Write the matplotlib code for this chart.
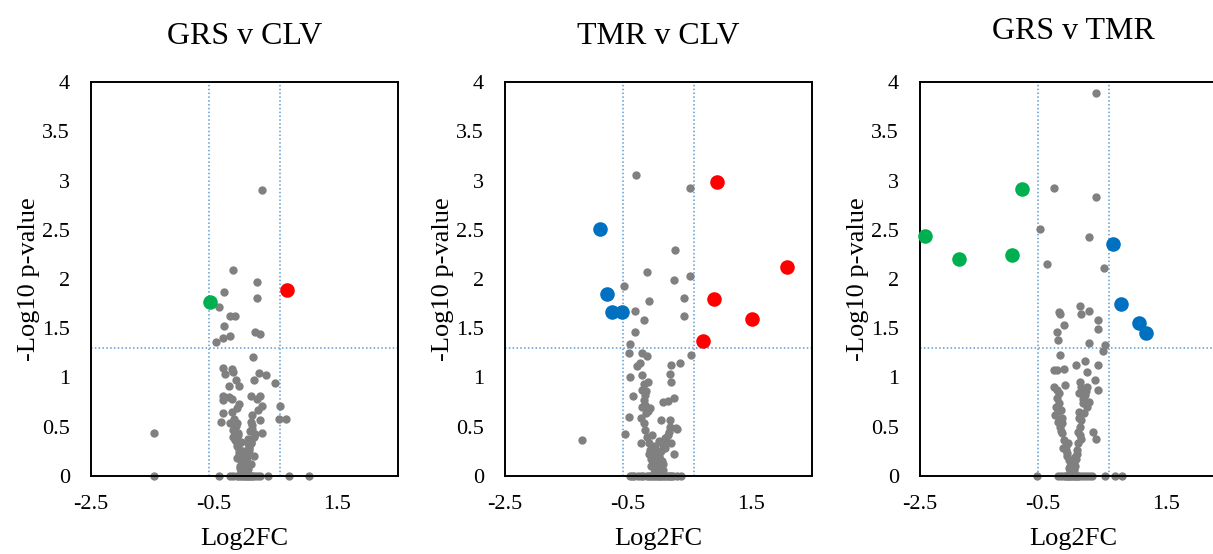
import numpy as np
import matplotlib
matplotlib.use("Agg")
import matplotlib.pyplot as plt

# ___ volcano data : log2 fold change vs -log10 p-value
titles = ["GRS v CLV", "TMR v CLV", "GRS v TMR"]

# GRS v CLV
gc_gray_x = [0.29, -0.185, 0.20, -0.33, 0.20, -0.41, -0.23, -0.15, -0.33, 0.17,
             0.26, -0.23, -0.35, -0.47,
             0.14, -0.355, -0.20, -0.32, -0.18, 0.23, 0.35, -0.14, -0.26, -0.09,
             0.16, 0.495, -0.355, -0.245, -0.20, 0.11, 0.26, 0.20, -0.355, -0.09,
             -0.13, 0.29, 0.22, 0.577, 0.57, 0.675, -0.355, -0.38, -0.20, -0.23,
             -0.18, -0.12, 0.125, 0.10, 0.26, 0.29, -1.47,
             -0.185, -0.147, -0.12, -0.12, -0.093, -0.093, -0.065, -0.065, -0.038,
             -0.038, -0.011, -0.011,
             0.152, 0.109, 0.109, 0.07, 0.07, 0.043, 0.043, 0.032, 0.016, 0.016,
             0.0, 0.02,
             -0.16, -0.10, 0.12, 0.17, 0.05, -0.05, 0.08, -0.03, 0.15, -0.13, 0.10,
             -0.08,
             -0.17, -0.14, -0.11, 0.13, 0.09, 0.06, -0.05, 0.05, -0.08, 0.08,
             -0.03, 0.03, -0.06, 0.06, -0.02, 0.02, -0.10, 0.10, 0.04, -0.04,
             -1.47, -0.42, -0.24, -0.12, -0.06, 0.0, 0.05, 0.10, 0.16, 0.38, 0.72,
             1.05, -0.18, -0.09, -0.03, 0.03, 0.07, 0.13, 0.21, 0.26]
gc_gray_y = [2.90, 2.09, 1.97, 1.87, 1.81, 1.72, 1.62, 1.62, 1.52, 1.465,
             1.44, 1.42, 1.40, 1.36,
             1.21, 1.10, 1.09, 1.04, 1.06, 1.05, 1.03, 0.975, 0.914, 0.914,
             0.975, 0.947, 0.81, 0.805, 0.78, 0.81, 0.81, 0.78, 0.77, 0.73,
             0.69, 0.71, 0.67, 0.71, 0.58, 0.58, 0.64, 0.55, 0.65, 0.535,
             0.47, 0.535, 0.62, 0.55, 0.57, 0.44, 0.44,
             0.40, 0.365, 0.33, 0.30, 0.264, 0.23, 0.196, 0.16, 0.13,
             0.095, 0.06, 0.027,
             0.40, 0.365, 0.33, 0.30, 0.264, 0.23, 0.196, 0.16, 0.13, 0.095,
             0.06, 0.03,
             0.45, 0.42, 0.48, 0.43, 0.38, 0.35, 0.28, 0.25, 0.20, 0.18, 0.12,
             0.08,
             0.58, 0.51, 0.44, 0.52, 0.46, 0.34, 0.22, 0.26, 0.10, 0.12,
             0.16, 0.20, 0.05, 0.07, 0.04, 0.14, 0.30, 0.34, 0.02, 0.01,
             0, 0, 0, 0, 0, 0, 0, 0, 0, 0, 0,
             0, 0, 0, 0, 0, 0, 0, 0, 0]
gc_up_x, gc_up_y = [0.70], [1.89]
gc_down_x, gc_down_y = [-0.56], [1.77]

# TMR v CLV
tc_gray_x = [-0.363, 0.507, 0.273, -0.184, 0.507, 0.247, -0.57, 0.42, -0.16,
             -0.375, 0.42, -0.24, -0.39, -0.46, 0.534, -0.482, -1.25,
             -0.27, -0.188, -0.352, -0.298, 0.208, 0.344, -0.46, -0.27, -0.178,
             0.192, 0.208, -0.423, -0.27, -0.215, -0.243, -0.215, 0.072, 0.148,
             0.246, -0.27, -0.133, -0.482, -0.29, -0.243, 0.038, 0.18, 0.29,
             -0.543, -0.28, 0.30,
             -0.216, -0.19, -0.16, -0.133, -0.106, -0.08, -0.06,
             0.164, 0.11, 0.072, 0.04, 0.013, -0.01,
             -0.10, 0.0, -0.05, 0.10, -0.02, 0.06, -0.12, 0.02, 0.20, 0.25,
             -0.24, -0.21, -0.17, -0.20, 0.19, 0.15, 0.12, -0.15, -0.12,
             -0.08, 0.08, -0.04, 0.04, -0.07, 0.07, 0.0, -0.03, 0.03,
             -0.47, -0.40, -0.33, -0.26, -0.19, -0.12, -0.06, 0.0, 0.06, 0.12,
             0.18, 0.24, 0.30, 0.36, -0.43, -0.29, -0.15, -0.09, -0.03, 0.03,
             0.09, 0.15, 0.21]
tc_gray_y = [3.056, 2.92, 2.29, 2.07, 2.03, 1.99, 1.93, 1.81, 1.78,
             1.68, 1.62, 1.58, 1.46, 1.34, 1.23, 1.245, 0.365,
             1.245, 1.22, 1.12, 1.15, 1.13, 1.15, 1.01, 1.025, 0.957,
             1.04, 0.957, 0.812, 0.873, 0.823, 0.772, 0.72, 0.748, 0.765,
             0.795, 0.704, 0.687, 0.595, 0.585, 0.535, 0.57, 0.57, 0.485,
             0.423, 0.34, 0.48,
             0.467, 0.40, 0.33, 0.264, 0.196, 0.13, 0.06,
             0.45, 0.384, 0.317, 0.25, 0.18, 0.115,
             0.42, 0.36, 0.30, 0.28, 0.22, 0.15, 0.10, 0.05, 0.33, 0.22,
             0.93, 0.86, 0.66, 0.64, 0.50, 0.42, 0.36, 0.22, 0.17,
             0.03, 0.06, 0.02, 0.10, 0.26, 0.12, 0.20, 0.08, 0.16,
             0, 0, 0, 0, 0, 0, 0, 0, 0, 0,
             0, 0, 0, 0, 0, 0, 0, 0, 0, 0,
             0, 0, 0]
tc_up_x = [0.953, 2.09, 0.899, 1.53, 0.726]
tc_up_y = [2.98, 2.12, 1.80, 1.59, 1.37]
tc_down_x = [-0.96, -0.84, -0.76, -0.60]
tc_down_y = [2.51, 1.845, 1.66, 1.66]

# GRS v TMR
gt_gray_x = [0.366, -0.325, 0.366, -0.542, 0.245, -0.43, 0.494,
             0.11, 0.257, 0.127, -0.244, -0.217, 0.40, 0.40, -0.162, -0.27,
             -0.254, 0.257, 0.518, 0.48, -0.217, 0.19, 0.045, 0.40, -0.325,
             -0.162, -0.27, 0.22, -0.325, -0.135, -0.27, 0.11, 0.127, 0.22,
             0.356, 0.394, 0.083, 0.19, 0.31, 0.365, 0.083,
             -0.27, -0.23, -0.20, -0.19, -0.22, -0.19, -0.15, -0.13, -0.10,
             -0.08, -0.06, -0.05,
             0.22, 0.17, 0.13, 0.11, 0.10, 0.08, 0.05, 0.03, 0.01, 0.0,
             -0.30, -0.25, -0.28, 0.15, 0.25, -0.17, 0.06, -0.03,
             -0.24, -0.21, -0.18, -0.26, 0.20, 0.15, 0.09, 0.07, 0.12,
             -0.11, -0.07, -0.02, 0.02, 0.04, -0.12, -0.09,
             -0.60, -0.20, -0.15, -0.10, -0.05, 0.0, 0.05, 0.10, 0.15, 0.20,
             0.518, 0.68, 0.79, -0.25, -0.12, -0.07, -0.02, 0.03, 0.08, 0.25,
             0.30]
gt_gray_y = [3.885, 2.92, 2.83, 2.505, 2.43, 2.15, 2.11,
             1.726, 1.68, 1.64, 1.665, 1.64, 1.585, 1.496, 1.53, 1.465,
             1.38, 1.35, 1.335, 1.27, 1.23, 1.17, 1.127, 1.127, 1.077,
             1.09, 1.08, 1.053, 0.90, 0.924, 0.873, 0.957, 0.90, 0.907,
             0.975, 0.873, 0.84, 0.823, 0.45, 0.372, 0.65,
             0.79, 0.74, 0.672, 0.585, 0.50, 0.433, 0.366, 0.30, 0.23,
             0.16, 0.10, 0.05,
             0.70, 0.637, 0.569, 0.50, 0.416, 0.33, 0.26, 0.19, 0.12, 0.06,
             0.62, 0.55, 0.70, 0.78, 0.75, 0.28, 0.22, 0.14,
             0.84, 0.46, 0.54, 0.66, 0.86, 0.74, 0.59, 0.45, 0.38,
             0.20, 0.08, 0.03, 0.10, 0.17, 0.26, 0.34,
             0, 0, 0, 0, 0, 0, 0, 0, 0, 0,
             0, 0, 0, 0, 0, 0, 0, 0, 0, 0,
             0]
gt_up_x = [0.637, 0.767, 1.06, 1.185]
gt_up_y = [2.36, 1.746, 1.55, 1.455]
gt_down_x = [-0.836, -2.418, -0.994, -1.86]
gt_down_y = [2.91, 2.44, 2.24, 2.20]

fc_cut = np.log2(1.5)
p_cut = -np.log10(0.05)

panels = [
    (gc_gray_x, gc_gray_y, [(gc_up_x, gc_up_y, "#FF0000"), (gc_down_x, gc_down_y, "#00B050")]),
    (tc_gray_x, tc_gray_y, [(tc_up_x, tc_up_y, "#FF0000"), (tc_down_x, tc_down_y, "#0070C0")]),
    (gt_gray_x, gt_gray_y, [(gt_up_x, gt_up_y, "#0070C0"), (gt_down_x, gt_down_y, "#00B050")]),
]

plt.rcParams["font.family"] = "Liberation Serif"

fig = plt.figure(figsize=(12.13, 5.54), dpi=100)
W, H = 1213.0, 554.0
lefts = [91, 505, 920]
title_pad = [27, 27, 31]

for i, (gx, gy, hl) in enumerate(panels):
    ax = fig.add_axes([lefts[i] / W, 78 / H, 307 / W, 394 / H])
    ax.axvline(-fc_cut, color="#5B9BD5", lw=1.1, ls=(0, (1, 1.5)), zorder=1)
    ax.axvline(fc_cut, color="#5B9BD5", lw=1.1, ls=(0, (1, 1.5)), zorder=1)
    ax.axhline(p_cut, color="#5B9BD5", lw=1.1, ls=(0, (1, 1.5)), zorder=1)
    ax.scatter(gx, gy, s=36, color="#808080", linewidths=0, zorder=2, clip_on=False)
    for hx, hy, c in hl:
        ax.scatter(hx, hy, s=110, color=c, linewidths=0, zorder=3, clip_on=False)
    ax.set_xlim(-2.5, 2.5)
    ax.set_ylim(0, 4)
    ax.set_xticks([-2.5, -0.5, 1.5])
    ax.set_xticklabels(["-2.5", "-0.5", "1.5"])
    ax.set_yticks([0, 0.5, 1, 1.5, 2, 2.5, 3, 3.5, 4])
    ax.set_yticklabels(["0", "0.5", "1", "1.5", "2", "2.5", "3", "3.5", "4"])
    ax.tick_params(length=0, labelsize=16, pad=15)
    ax.tick_params(axis="x", pad=14)
    for sp in ax.spines.values():
        sp.set_linewidth(1.4)
        sp.set_color("black")
    ax.set_title(titles[i], fontsize=23, pad=title_pad[i])
    ax.set_xlabel("Log2FC", fontsize=19, labelpad=10)
    ax.set_ylabel("-Log10 p-value", fontsize=19, labelpad=2)

fig.savefig("out.png", dpi=100)
